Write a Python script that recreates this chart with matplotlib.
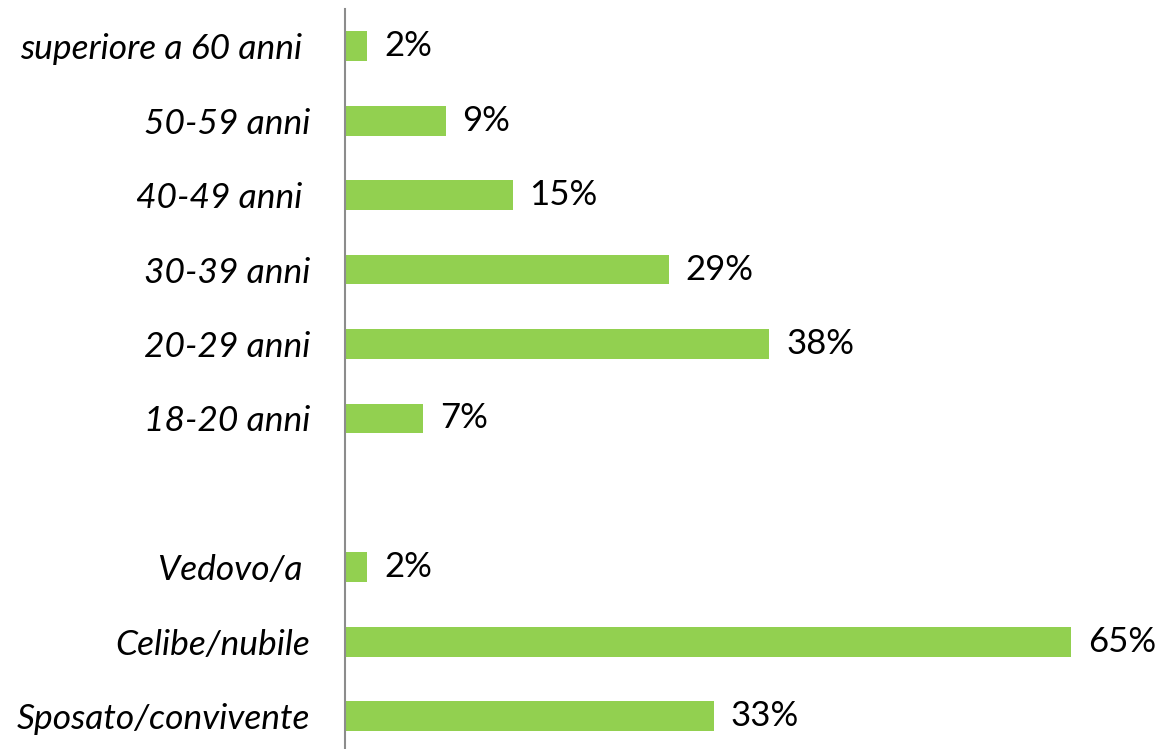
import matplotlib.pyplot as plt
import numpy as np

# age groups (top to bottom) and marital status (top to bottom)
eta = ['superiore a 60 anni ', '50-59 anni', '40-49 anni ', '30-39 anni', '20-29 anni', '18-20 anni']
eta_pct = [2, 9, 15, 29, 38, 7]
stato = ['Vedovo/a ', 'Celibe/nubile', 'Sposato/convivente']
stato_pct = [2, 65, 33]

labels = eta + [''] + stato
values = eta_pct + [None] + stato_pct
ypos = np.arange(len(labels))[::-1]

plt.rcParams['font.family'] = ['Lato', 'DejaVu Sans']

fig = plt.figure(figsize=(11.55, 7.49), dpi=100)
ax = fig.add_axes([345 / 1155, 0.0, 810 / 1155, 1 - 9 / 749])

for y, v in zip(ypos, values):
    if v is None:
        continue
    ax.barh(y, v, height=0.40, color='#92D050', edgecolor='none')
    ax.text(v + 1.5, y, f'{v}%', va='center', ha='left', fontsize=25, color='black')

ax.set_yticks(ypos)
ax.set_yticklabels(labels, fontsize=25.5, style='italic')
ax.tick_params(axis='y', length=0, pad=25)
ax.set_xticks([])
ax.set_xlim(0, 65 * 810 / 726)
ax.set_ylim(-0.44, 9.5)

for s in ['top', 'right', 'bottom']:
    ax.spines[s].set_visible(False)
ax.spines['left'].set_color('#8c8c8c')
ax.spines['left'].set_linewidth(1.5)

fig.savefig('out.png', dpi=100)
